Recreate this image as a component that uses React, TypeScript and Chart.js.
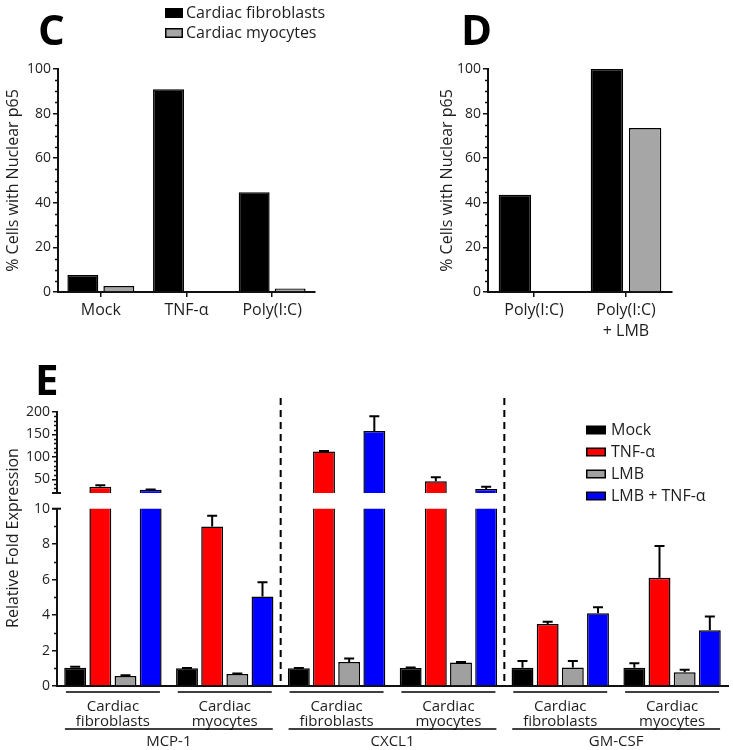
import React, { useEffect, useRef } from 'react';
import { Chart, registerables } from 'chart.js';
Chart.register(...registerables);

const FONT = "'Open Sans', sans-serif";
const TEXT = '#1e1e1e';
const AXIS = '#111111';

// ---------- Panel C ----------
const cCategories = ['Mock', 'TNF-α', 'Poly(I:C)'];
const cFibroblasts = [7.6, 90.9, 44.7];
const cMyocytes = [2.7, 0, 1.6];
// ---------- Panel D ----------
const dCategories = [['Poly(I:C)'], ['Poly(I:C)', '+ LMB']];
const dFibroblasts = [43.6, 100];
const dMyocytes = [0, 73.5];
const pctTicks = [0, 20, 40, 60, 80, 100];
const cellSeriesNames = ['Cardiac fibroblasts', 'Cardiac myocytes'];

// ---------- Panel E ----------
const genes = ['MCP-1', 'CXCL1', 'GM-CSF'];
const cellTypes = [['Cardiac', 'fibroblasts'], ['Cardiac', 'myocytes']];
const treatments = ['Mock', 'TNF-α', 'LMB', 'LMB + TNF-α'];
const eMock = [1.03, 1.0, 1.0, 1.02, 1.03, 1.03];
const eMockErr = [0.05, 0.02, 0.02, 0.03, 0.38, 0.26];
const eTnf = [34, 9.0, 112, 46, 3.5, 6.1];
const eTnfErr = [3, 0.6, 1, 9, 0.13, 1.8];
const eLmb = [0.56, 0.68, 1.35, 1.32, 1.05, 0.77];
const eLmbErr = [0.04, 0.03, 0.2, 0.03, 0.36, 0.15];
const eLmbTnf = [27, 5.05, 157, 29, 4.1, 3.15];
const eLmbTnfErr = [1, 0.8, 33, 5, 0.34, 0.77];
const eLowerTicks = [0, 2, 4, 6, 8, 10];
const eUpperTicks = [50, 100, 150, 200];
const eBreakLow = 10;
const eBreakHigh = 20;
const eUpperMax = 200;

const treatmentColors = ['#000000', '#ff0000', '#a0a0a0', '#0000ff'];
const cellColors = ['#000000', '#a6a6a6'];

Chart.defaults.font.family = FONT;
Chart.defaults.color = TEXT;

// minor ticks + break ticks on the y axis
const minorTicksPlugin = {
  id: 'minorTicks',
  afterDraw(chart: any, _args: any, opts: any) {
    if (!opts || !opts.step) return;
    const y = chart.scales.y;
    const ctx = chart.ctx;
    const x0 = y.right;
    ctx.save();
    ctx.strokeStyle = AXIS;
    ctx.lineWidth = 1.5;
    const start = opts.from ?? y.min;
    for (let v = start; v <= y.max + 1e-9; v += opts.step) {
      if (opts.skipEvery && Math.abs(v / opts.skipEvery - Math.round(v / opts.skipEvery)) < 1e-6) continue;
      const py = Math.round(y.getPixelForValue(v)) + 0.5;
      ctx.beginPath();
      ctx.moveTo(x0 - 3, py);
      ctx.lineTo(x0, py);
      ctx.stroke();
    }
    (opts.breaks || []).forEach((v: number) => {
      const py = y.getPixelForValue(v);
      ctx.beginPath();
      ctx.lineWidth = 2;
      ctx.moveTo(x0 - 5, py);
      ctx.lineTo(x0 + 4, py);
      ctx.stroke();
    });
    ctx.restore();
  },
};

// upward error bars
const errorBarsPlugin = {
  id: 'errorBars',
  afterDatasetsDraw(chart: any) {
    const ctx = chart.ctx;
    const y = chart.scales.y;
    const area = chart.chartArea;
    ctx.save();
    ctx.beginPath();
    ctx.rect(area.left, area.top - 2, area.right - area.left, area.bottom - area.top + 2);
    ctx.clip();
    ctx.strokeStyle = '#000';
    ctx.lineWidth = 2;
    chart.data.datasets.forEach((ds: any, i: number) => {
      if (!ds.errors) return;
      const meta = chart.getDatasetMeta(i);
      meta.data.forEach((el: any, j: number) => {
        const v = ds.data[j];
        if (v == null) return;
        if (v > y.max || v < y.min) return;
        const top = y.getPixelForValue(v + ds.errors[j]);
        ctx.beginPath();
        ctx.moveTo(el.x, el.y);
        ctx.lineTo(el.x, top);
        ctx.moveTo(el.x - 5, top);
        ctx.lineTo(el.x + 5, top);
        ctx.stroke();
      });
    });
    ctx.restore();
  },
};

Chart.register(minorTicksPlugin, errorBarsPlugin);

function yAxis(min: number, max: number, ticks: number[], width: number, title?: any) {
  return {
    min,
    max,
    afterBuildTicks: (s: any) => {
      s.ticks = ticks.map((v) => ({ value: v }));
    },
    afterFit: (s: any) => {
      s.width = width;
    },
    grid: { drawOnChartArea: false, drawTicks: true, tickLength: 5, color: AXIS, lineWidth: 1.5 },
    border: { display: true, color: AXIS, width: 2 },
    ticks: { font: { size: 14, family: FONT }, color: TEXT, padding: 2 },
    title: title || { display: false },
  };
}

function drawBox(ctx: any, x: number, y: number, w: number, h: number, fill: string) {
  ctx.fillStyle = '#000';
  ctx.fillRect(x, y, w, h);
  ctx.fillStyle = fill;
  ctx.fillRect(x + 1.5, y + 1.5, w - 3, h - 3);
}

export default function App() {
  const cRef = useRef<HTMLCanvasElement>(null);
  const dRef = useRef<HTMLCanvasElement>(null);
  const eLowRef = useRef<HTMLCanvasElement>(null);
  const eHighRef = useRef<HTMLCanvasElement>(null);

  useEffect(() => {
    const charts: Chart[] = [];

    // ---------------- Panel C ----------------
    const decorC = {
      id: 'decorC',
      afterDraw(chart: any) {
        const ctx = chart.ctx;
        ctx.save();
        ctx.fillStyle = '#000';
        ctx.font = `bold 42px ${FONT}`;
        ctx.textBaseline = 'alphabetic';
        ctx.textAlign = 'left';
        ctx.fillText('C', 38, 45);
        // legend
        ctx.font = `16px ${FONT}`;
        ctx.textBaseline = 'middle';
        cellSeriesNames.forEach((name, i) => {
          const cy = 13 + i * 20;
          drawBox(ctx, 165, cy - 5, 18, 10, cellColors[i]);
          ctx.fillStyle = TEXT;
          ctx.fillText(name, 186, cy);
        });
        ctx.restore();
      },
    };
    charts.push(
      new Chart(cRef.current!, {
        type: 'bar',
        data: {
          labels: cCategories,
          datasets: [
            { label: cellSeriesNames[0], data: cFibroblasts, backgroundColor: cellColors[0], borderColor: '#000', borderWidth: 1.5, categoryPercentage: 0.84, barPercentage: 0.86 } as any,
            { label: cellSeriesNames[1], data: cMyocytes, backgroundColor: cellColors[1], borderColor: '#000', borderWidth: 1.5, categoryPercentage: 0.84, barPercentage: 0.86 } as any,
          ],
        },
        options: {
          responsive: false,
          animation: false,
          layout: { padding: { top: 69, right: 45, left: 0, bottom: 0 } },
          plugins: {
            legend: { display: false },
            tooltip: { enabled: false },
            minorTicks: { step: 5, skipEvery: 20 },
          } as any,
          scales: {
            x: {
              afterFit: (s: any) => { s.height = 53; },
              grid: { display: true, drawOnChartArea: false, offset: false, tickLength: 5, color: AXIS, lineWidth: 1.5 },
              border: { color: AXIS, width: 2 },
              ticks: { font: { size: 16, lineHeight: 1.3 }, color: TEXT, padding: 3, maxRotation: 0, autoSkip: false },
            },
            y: yAxis(0, 100, pctTicks, 58, {
              display: true,
              text: '% Cells with Nuclear p65',
              font: { size: 16 },
              color: TEXT,
              padding: { top: 4, bottom: 0 },
            }),
          } as any,
        },
        plugins: [decorC],
      })
    );

    // ---------------- Panel D ----------------
    const decorD = {
      id: 'decorD',
      afterDraw(chart: any) {
        const ctx = chart.ctx;
        ctx.save();
        ctx.fillStyle = '#000';
        ctx.font = `bold 42px ${FONT}`;
        ctx.textBaseline = 'alphabetic';
        ctx.fillText('D', 101, 45);
        ctx.restore();
      },
    };
    charts.push(
      new Chart(dRef.current!, {
        type: 'bar',
        data: {
          labels: dCategories as any,
          datasets: [
            { label: cellSeriesNames[0], data: dFibroblasts, backgroundColor: cellColors[0], borderColor: '#000', borderWidth: 1.5, categoryPercentage: 0.83, barPercentage: 0.85 } as any,
            { label: cellSeriesNames[1], data: dMyocytes, backgroundColor: cellColors[1], borderColor: '#000', borderWidth: 1.5, categoryPercentage: 0.83, barPercentage: 0.85 } as any,
          ],
        },
        options: {
          responsive: false,
          animation: false,
          layout: { padding: { top: 69, right: 61, left: 72, bottom: 0 } },
          plugins: {
            legend: { display: false },
            tooltip: { enabled: false },
            minorTicks: { step: 5, skipEvery: 20 },
          } as any,
          scales: {
            x: {
              afterFit: (s: any) => { s.height = 53; },
              grid: { display: true, drawOnChartArea: false, offset: false, tickLength: 5, color: AXIS, lineWidth: 1.5 },
              border: { color: AXIS, width: 2 },
              ticks: { font: { size: 16, lineHeight: 1.3 }, color: TEXT, padding: 3, maxRotation: 0, autoSkip: false },
            },
            y: yAxis(0, 100, pctTicks, 56, {
              display: true,
              text: '% Cells with Nuclear p65',
              font: { size: 16 },
              color: TEXT,
              padding: { top: 6, bottom: 0 },
            }),
          } as any,
        },
        plugins: [decorD],
      })
    );

    // ---------------- Panel E ----------------
    const eLabels: string[][] = [];
    genes.forEach(() => cellTypes.forEach((c) => eLabels.push(c)));
    const eSeries = [eMock, eTnf, eLmb, eLmbTnf];
    const eErrs = [eMockErr, eTnfErr, eLmbErr, eLmbTnfErr];

    const makeSets = (upper: boolean) =>
      treatments.map((t, k) => ({
        label: t,
        data: upper ? eSeries[k].map((v) => (v > eBreakHigh ? v : null)) : eSeries[k],
        errors: eErrs[k],
        backgroundColor: treatmentColors[k],
        borderColor: '#000',
        borderWidth: 1.5,
        categoryPercentage: 0.9,
        barPercentage: 0.87,
        clip: 0,
      })) as any;

    const decorE = {
      id: 'decorE',
      afterDraw(chart: any) {
        const ctx = chart.ctx;
        const x = chart.scales.x;
        const area = chart.chartArea;
        ctx.save();
        // panel letter
        ctx.fillStyle = '#000';
        ctx.font = `bold 42px ${FONT}`;
        ctx.textBaseline = 'alphabetic';
        ctx.fillText('E', 35, 35);
        // y title
        ctx.save();
        ctx.translate(13, 178);
        ctx.rotate(-Math.PI / 2);
        ctx.font = `16px ${FONT}`;
        ctx.fillStyle = TEXT;
        ctx.textAlign = 'center';
        ctx.textBaseline = 'middle';
        ctx.fillText('Relative Fold Expression', 0, 0);
        ctx.restore();
        // dashed separators between genes
        ctx.strokeStyle = '#000';
        ctx.lineWidth = 2;
        ctx.setLineDash([7, 5]);
        for (let g = 1; g < genes.length; g++) {
          const px = (x.getPixelForValue(2 * g - 1) + x.getPixelForValue(2 * g)) / 2;
          ctx.beginPath();
          ctx.moveTo(px, 38);
          ctx.lineTo(px, area.bottom - 1);
          ctx.stroke();
        }
        ctx.setLineDash([]);
        // group underlines
        ctx.lineWidth = 1.5;
        for (let i = 0; i < eLabels.length; i++) {
          const cx = x.getPixelForValue(i);
          ctx.beginPath();
          ctx.moveTo(cx - 47, area.bottom + 6);
          ctx.lineTo(cx + 47, area.bottom + 6);
          ctx.stroke();
        }
        // gene underlines + names
        ctx.font = `15px ${FONT}`;
        ctx.fillStyle = TEXT;
        ctx.textAlign = 'center';
        ctx.textBaseline = 'middle';
        genes.forEach((g, gi) => {
          const a = x.getPixelForValue(2 * gi) - 48;
          const b = x.getPixelForValue(2 * gi + 1) + 48;
          ctx.beginPath();
          ctx.moveTo(a, area.bottom + 43);
          ctx.lineTo(b, area.bottom + 43);
          ctx.stroke();
          ctx.fillText(g, (a + b) / 2, area.bottom + 56);
        });
        // legend
        ctx.font = `16px ${FONT}`;
        ctx.textAlign = 'left';
        treatments.forEach((t, k) => {
          const cy = 70 + k * 22;
          drawBox(ctx, 586, cy - 4.5, 20, 9, treatmentColors[k]);
          ctx.fillStyle = TEXT;
          ctx.fillText(t, 611, cy);
        });
        ctx.restore();
      },
    };

    charts.push(
      new Chart(eLowRef.current!, {
        type: 'bar',
        data: { labels: eLabels as any, datasets: makeSets(false) },
        options: {
          responsive: false,
          animation: false,
          layout: { padding: { top: 148.7, right: 5, left: 0, bottom: 0 } },
          plugins: {
            legend: { display: false },
            tooltip: { enabled: false },
            minorTicks: { step: 1, skipEvery: 2, breaks: [eBreakLow] },
          } as any,
          scales: {
            x: {
              afterFit: (s: any) => { s.height = 64; },
              grid: { display: false },
              border: { display: true, color: AXIS, width: 2 },
              ticks: { font: { size: 15, lineHeight: 0.95 }, color: TEXT, padding: 6, maxRotation: 0, autoSkip: false },
            },
            y: yAxis(0, eBreakLow, eLowerTicks, 57),
          } as any,
        },
        plugins: [decorE],
      })
    );

    charts.push(
      new Chart(eHighRef.current!, {
        type: 'bar',
        data: { labels: eLabels as any, datasets: makeSets(true) },
        options: {
          responsive: false,
          animation: false,
          layout: { padding: { top: 51.7, right: 5, left: 0, bottom: 257 } },
          plugins: {
            legend: { display: false },
            tooltip: { enabled: false },
            minorTicks: { step: 10, from: 30, skipEvery: 50, breaks: [eBreakHigh] },
          } as any,
          scales: {
            x: { display: false },
            y: yAxis(eBreakHigh, eUpperMax, eUpperTicks, 57),
          } as any,
        },
      })
    );

    return () => charts.forEach((c) => c.destroy());
  }, []);

  return (
    <div style={{ position: 'absolute', left: 0, top: 0, width: 733, height: 750, background: '#fff', overflow: 'hidden' }}>
      <canvas ref={cRef} width={360} height={345} style={{ position: 'absolute', left: 0, top: 0 }} />
      <canvas ref={dRef} width={373} height={345} style={{ position: 'absolute', left: 360, top: 0 }} />
      <canvas ref={eLowRef} width={733} height={390} style={{ position: 'absolute', left: 0, top: 360 }} />
      <canvas ref={eHighRef} width={733} height={390} style={{ position: 'absolute', left: 0, top: 360, pointerEvents: 'none' }} />
    </div>
  );
}
